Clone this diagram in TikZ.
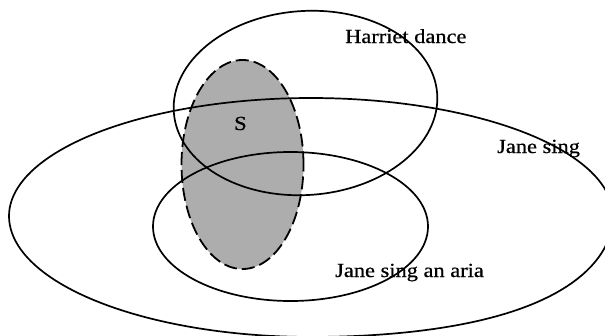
\documentclass[tikz,border=0pt]{standalone}
\usepackage{fontspec}
\setmainfont{Liberation Serif}
\newfontfamily\lblfont{Liberation Serif}[FakeBold=0.6]
\begin{document}
\begin{tikzpicture}[x=1pt,y=-1pt,
  setline/.style={line width=1.7pt, black},
  sfill/.style={fill=black!32},
  sline/.style={line width=1.8pt, black, dash pattern=on 13pt off 5pt},
  lbl/.style={anchor=base west, inner sep=0pt, font=\lblfont\fontsize{20}{20}\selectfont}]
\useasboundingbox (0,0) rectangle (605,335);
\clip (0,0) rectangle (605,335);
% S region
\fill[sfill] (242.5,164.5) ellipse [x radius=61pt, y radius=104.5pt];
\draw[sline] (242.5,164.5) ellipse [x radius=61pt, y radius=104.5pt];
% Harriet dance
\draw[setline, rotate around={4:(305.5,103)}] (305.5,103) ellipse [x radius=132pt, y radius=92pt];
% Jane sing an aria
\draw[setline] (290.5,226.5) ellipse [x radius=137.5pt, y radius=74.5pt];
% Jane sing
\draw[setline] plot[domain=0:358, samples=180]
  ({311+302*cos(\x)},
   {216 - (\x<180 ? 118 : 121)*sin(\x) + 16*cos(\x)*cos(\x)*max(0,-sin(\x))*(cos(\x)>0)}) -- cycle;
% labels
\node[lbl] (hd) at (345,43) {\scalebox{1.12}[1]{Harriet dance}};
\node[lbl] (js) at (497,153) {\scalebox{1.12}[1]{Jane sing}};
\node[lbl] (jsa) at (335,277) {\scalebox{1.12}[1]{Jane sing an aria}};
\node[lbl] (s) at (234,130) {\scalebox{1.12}[1]{S}};
\end{tikzpicture}
\end{document}
